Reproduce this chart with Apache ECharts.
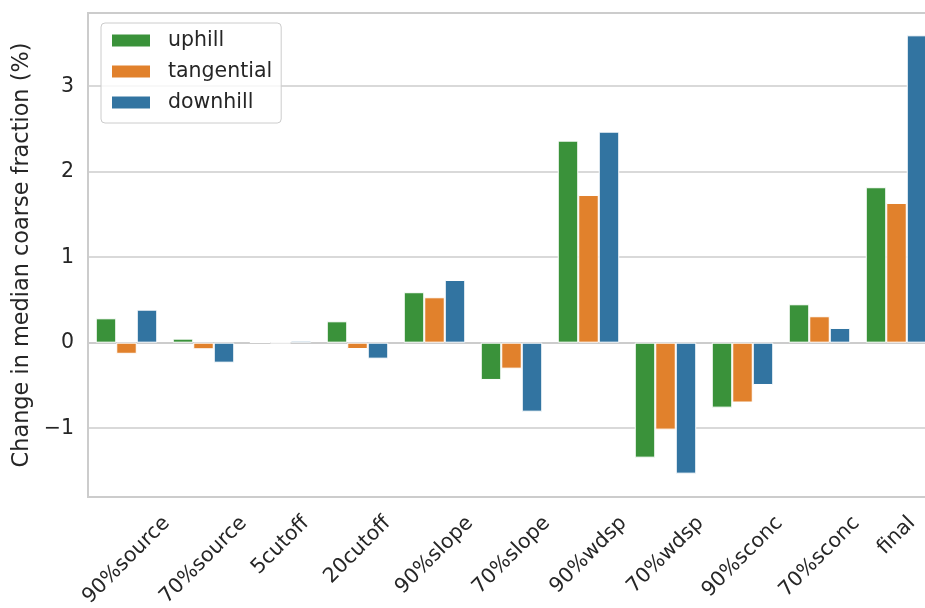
<!DOCTYPE html>
<html>
<head>
<meta charset="utf-8">
<script src="https://cdn.jsdelivr.net/npm/echarts@6/dist/echarts.min.js"></script>
<style>
html,body{margin:0;padding:0;background:#fff;}
#chart{width:925px;height:608px;}
</style>
</head>
<body>
<div id="chart"></div>
<script>
// ---- data ----
const categories = ['90%source','70%source','5cutoff','20cutoff','90%slope','70%slope','90%wdsp','70%wdsp','90%sconc','70%sconc','final'];
const seriesNames = ['uphill','tangential','downhill'];
const uphill     = [0.285, 0.047, 0.004, 0.25, 0.59, -0.436, 2.363, -1.345, -0.76, 0.449, 1.818];
const tangential = [-0.13, -0.077, -0.004, -0.074, 0.531, -0.304, 1.727, -1.017, -0.70, 0.309, 1.634];
const downhill   = [0.386, -0.234, 0.023, -0.187, 0.733, -0.807, 2.468, -1.532, -0.495, 0.172, 3.595];
const yMin = -1.805, yMax = 3.856;

// ---- styling ----
const colors = ['#3a923a', '#e1812c', '#3274a1'];
const FONT = 'DejaVu Sans';
const TXT = '#262626';
const TICK_FS = 20.5;

// rotated x labels: centre each label's box under its tick (matplotlib style)
const ctx = document.createElement('canvas').getContext('2d');
ctx.font = TICK_FS + 'px "' + FONT + '"';
const rich = {};
categories.forEach((c, i) => {
  const w = ctx.measureText(c).width;
  const d = 14.5 + (w + 24) / (2 * Math.SQRT2);
  const p = Math.SQRT2 * d;
  rich['l' + i] = {padding: [p, p, 0, 0], fontSize: TICK_FS, fontFamily: FONT, color: TXT};
});

const chart = echarts.init(document.getElementById('chart'), null, {renderer: 'canvas'});
const dataArr = [uphill, tangential, downhill];
chart.setOption({
  animation: false,
  backgroundColor: '#fff',
  grid: {left: 88, right: -10, top: 13, bottom: 111, show: true, borderColor: '#cccccc', borderWidth: 2,
         containLabel: false, outerBoundsMode: 'none'},
  legend: {
    data: seriesNames,
    orient: 'vertical',
    left: 101, top: 23,
    itemWidth: 40, itemHeight: 14, itemGap: 10,
    padding: [7, 9, 10, 9],
    backgroundColor: 'rgba(255,255,255,0.8)',
    borderColor: '#cccccc', borderWidth: 1, borderRadius: 4,
    icon: 'rect',
    textStyle: {fontSize: TICK_FS, fontFamily: FONT, color: TXT, padding: [0, 0, 0, 12]}
  },
  xAxis: {
    type: 'category',
    data: categories,
    axisLine: {show: true, lineStyle: {color: '#cccccc', width: 2}},
    axisTick: {show: false},
    splitLine: {show: false},
    axisLabel: {
      interval: 0, rotate: 45, margin: 0,
      align: 'center', verticalAlign: 'middle',
      hideOverlap: false,
      fontSize: TICK_FS, fontFamily: FONT, color: TXT,
      formatter: (v, i) => '{l' + i + '|' + v + '}',
      rich: rich
    }
  },
  yAxis: {
    type: 'value',
    min: yMin, max: yMax, splitNumber: 5,
    name: 'Change in median coarse fraction (%)',
    nameLocation: 'middle', nameGap: 50,
    nameTextStyle: {fontSize: 22.4, fontFamily: FONT, color: TXT},
    axisLine: {show: true, lineStyle: {color: '#cccccc', width: 2}},
    axisTick: {show: false},
    splitLine: {show: true, lineStyle: {color: '#cccccc', width: 1.5}},
    axisLabel: {
      showMinLabel: false, showMaxLabel: false,
      margin: 14, fontSize: TICK_FS, fontFamily: FONT, color: TXT,
      formatter: v => (Math.abs(v - Math.round(v)) > 1e-6 ? '' : (v < 0 ? '\u2212' + Math.abs(v) : String(v)))
    }
  },
  series: seriesNames.map((n, k) => ({
    name: n,
    type: 'bar',
    data: dataArr[k],
    barWidth: 20.5,
    barGap: '0%',
    itemStyle: {color: colors[k], borderColor: '#ffffff', borderWidth: 1}
  }))
});
</script>
</body>
</html>
